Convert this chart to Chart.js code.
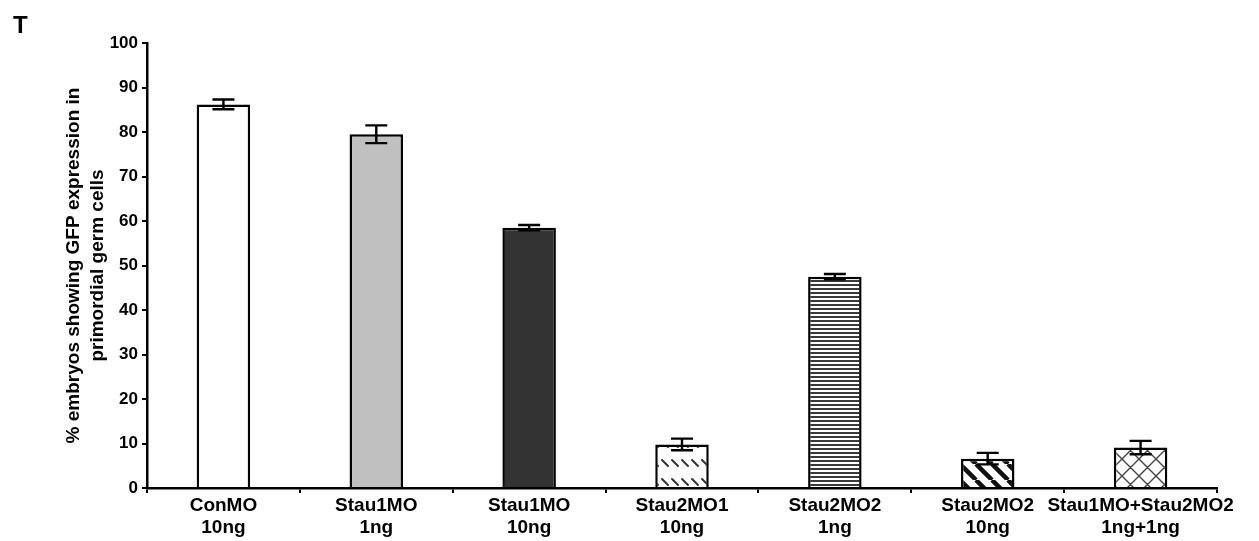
<!DOCTYPE html>
<html>
<head>
<meta charset="utf-8">
<script src="https://cdn.jsdelivr.net/npm/chart.js@4"></script>
<style>
  html, body { margin: 0; padding: 0; background: #fff; }
  #wrap { position: relative; width: 1259px; height: 541px; }
  #panel { position: absolute; left: 13px; top: 13px; font: bold 24px/1 "Liberation Sans", Arial, sans-serif; color: #000; }
</style>
</head>
<body>
<div id="wrap">
  <canvas id="c" width="1259" height="541"></canvas>
  <div id="panel">T</div>
</div>
<script>
// Groups (two-line tick labels), mean percentages and error half-widths
const categories = [
  ["ConMO", "10ng"],
  ["Stau1MO", "1ng"],
  ["Stau1MO", "10ng"],
  ["Stau2MO1", "10ng"],
  ["Stau2MO2", "1ng"],
  ["Stau2MO2", "10ng"],
  ["Stau1MO+Stau2MO2", "1ng+1ng"]
];
const percentGFP = [86.2, 79.5, 58.5, 9.8, 47.5, 6.6, 9.1];
const errorGFP = [1.1, 2.0, 0.6, 1.3, 0.6, 1.3, 1.5];
const yTicks = [0, 10, 20, 30, 40, 50, 60, 70, 80, 90, 100];

const FONT = '"Liberation Sans", Arial, sans-serif';

// Small tiled canvases used as bar fills
function tile(w, h, draw) {
  const t = document.createElement('canvas');
  t.width = w; t.height = h;
  const g = t.getContext('2d');
  g.fillStyle = '#fff';
  g.fillRect(0, 0, w, h);
  draw(g, w, h);
  return document.getElementById('c').getContext('2d').createPattern(t, 'repeat');
}

// short backslash dashes in sparse rows
const dashedDiag = tile(10, 19, (g) => {
  g.strokeStyle = '#333';
  g.lineWidth = 2;
  g.lineCap = 'round';
  g.beginPath();
  g.moveTo(2, 4); g.lineTo(8, 10);
  g.stroke();
});

// dense horizontal rules
const horizLines = tile(4, 4, (g) => {
  g.fillStyle = '#3a3a3a';
  g.fillRect(0, 0, 4, 2);
});

// wide black backslash stripes
const wideStripes = tile(16, 16, (g) => {
  g.strokeStyle = '#111';
  g.lineWidth = 4.5;
  g.beginPath();
  for (let k = -16; k <= 32; k += 16) {
    g.moveTo(k, 0); g.lineTo(k + 16, 16);
  }
  g.stroke();
});

// light diagonal crosshatch
const crossHatch = tile(17, 17, (g) => {
  g.strokeStyle = '#444';
  g.lineWidth = 1.4;
  g.beginPath();
  for (let k = -17; k <= 34; k += 17) {
    g.moveTo(k, 0); g.lineTo(k + 17, 17);
    g.moveTo(k + 17, 0); g.lineTo(k, 17);
  }
  g.stroke();
});

const fills = ['#ffffff', '#c0c0c0', '#333333', dashedDiag, horizLines, wideStripes, crossHatch];

// Error bars with caps, drawn over the bars
const errorBars = {
  id: 'errorBars',
  afterDatasetsDraw(chart) {
    const ctx = chart.ctx;
    const y = chart.scales.y;
    const meta = chart.getDatasetMeta(0);
    ctx.save();
    ctx.strokeStyle = '#000';
    ctx.lineWidth = 2.4;
    meta.data.forEach((bar, i) => {
      const v = percentGFP[i], e = errorGFP[i];
      const top = y.getPixelForValue(v + e);
      const bot = y.getPixelForValue(v - e);
      const x = bar.x, cap = 11;
      ctx.beginPath();
      ctx.moveTo(x, top); ctx.lineTo(x, bot);
      ctx.moveTo(x - cap, top); ctx.lineTo(x + cap, top);
      ctx.moveTo(x - cap, bot); ctx.lineTo(x + cap, bot);
      ctx.stroke();
    });
    ctx.restore();
  }
};

new Chart(document.getElementById('c'), {
  type: 'bar',
  data: {
    labels: categories,
    datasets: [{
      data: percentGFP,
      backgroundColor: fills,
      borderColor: '#000',
      borderWidth: 2.5,
      categoryPercentage: 1,
      barPercentage: 0.35
    }]
  },
  options: {
    responsive: false,
    animation: false,
    layout: { padding: { top: 43, right: 42, left: 0, bottom: 0 } },
    plugins: { legend: { display: false }, tooltip: { enabled: false } },
    scales: {
      x: {
        grid: { display: true, drawOnChartArea: false, offset: true, color: '#000', lineWidth: 2, tickLength: 5, tickColor: '#000' },
        border: { display: true, color: '#000', width: 2.5 },
        ticks: { color: '#000', font: { family: FONT, size: 19, weight: 'bold', lineHeight: 1.15 }, padding: 2, maxRotation: 0, autoSkip: false },
        afterFit(s) { s.height = 53; }
      },
      y: {
        min: 0, max: 100,
        afterBuildTicks(s) { s.ticks = yTicks.map(v => ({ value: v })); },
        grid: { display: true, drawOnChartArea: false, color: '#000', lineWidth: 2, tickLength: 5, tickColor: '#000' },
        border: { display: true, color: '#000', width: 2.5 },
        ticks: { color: '#000', font: { family: FONT, size: 17, weight: 'bold' }, padding: 4 },
        title: {
          display: true,
          text: ['% embryos showing GFP expression in', 'primordial germ cells'],
          color: '#000',
          font: { family: FONT, size: 19, weight: 'bold', lineHeight: 1.25 },
          padding: { top: 62, bottom: 0 }
        },
        afterFit(s) { s.width = 147; }
      }
    }
  },
  plugins: [errorBars]
});
</script>
</body>
</html>
